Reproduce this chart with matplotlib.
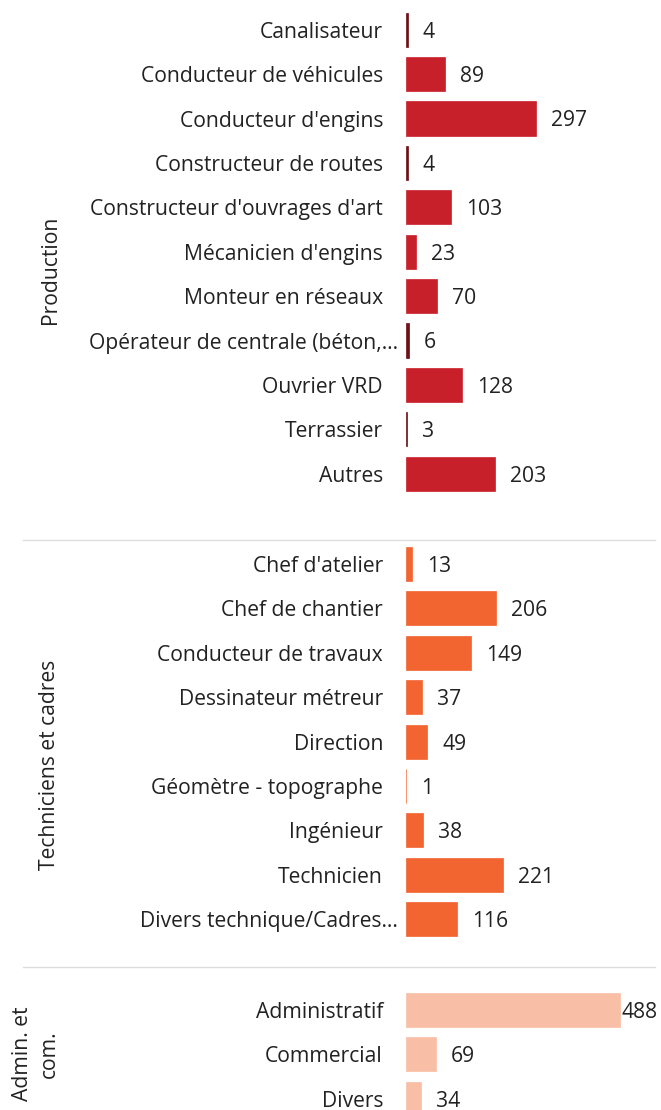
import matplotlib
matplotlib.use("Agg")
import matplotlib.pyplot as plt
from matplotlib.lines import Line2D

plt.rcParams['font.family'] = ['Open Sans', 'DejaVu Sans']

groups = ["Production", "Techniciens et cadres", "Admin. et\ncom."]
prod_labels = ["Canalisateur", "Conducteur de véhicules", "Conducteur d'engins",
               "Constructeur de routes", "Constructeur d'ouvrages d'art",
               "Mécanicien d'engins", "Monteur en réseaux",
               "Opérateur de centrale (béton,…", "Ouvrier VRD", "Terrassier", "Autres"]
prod_values = [4, 89, 297, 4, 103, 23, 70, 6, 128, 3, 203]
tech_labels = ["Chef d'atelier", "Chef de chantier", "Conducteur de travaux",
               "Dessinateur métreur", "Direction", "Géomètre - topographe",
               "Ingénieur", "Technicien", "Divers technique/Cadres…"]
tech_values = [13, 206, 149, 37, 49, 1, 38, 221, 116]
adm_labels = ["Administratif", "Commercial", "Divers"]
adm_values = [488, 69, 34]

colors = ["#C8202A", "#F26430", "#F9BFA6"]
thin_color = "#6E1016"
FS = 15.2
TXT = "#222222"

W, H = 661, 1110
fig = plt.figure(figsize=(W / 100, H / 100), dpi=100)

row_px = 44.4
x0_px = 406
px_per_unit = 0.438
xmax = (W - x0_px) / px_per_unit

panels = [
    (prod_labels, prod_values, colors[0], 29.7, (50, 270)),
    (tech_labels, tech_values, colors[1], 564, (50, 765)),
    (adm_labels, adm_values, colors[2], 1010, (36, 1054)),
]

for gi, (labels, values, col, first_center, (lx, ly)) in enumerate(panels):
    n = len(labels)
    top_px = first_center - row_px / 2
    h_px = n * row_px
    ax = fig.add_axes([x0_px / W, 1 - (top_px + h_px) / H, (W - x0_px) / W, h_px / H])
    ypos = list(range(n))
    bar_cols = [thin_color if (gi == 0 and v < 10) else col for v in values]
    ax.barh(ypos, values, height=0.77, color=bar_cols, edgecolor=bar_cols, linewidth=0.5)
    ax.set_xlim(0, xmax)
    ax.set_ylim(n - 0.5, -0.5)
    ax.set_yticks([])
    ax.set_xticks([])
    for s in ax.spines.values():
        s.set_visible(False)
    for y, lab in zip(ypos, labels):
        pad = -8 if lab.endswith("…") else -23
        ax.annotate(lab, xy=(0, y), xycoords=('axes fraction', 'data'),
                    xytext=(pad, 0), textcoords='offset pixels',
                    ha='right', va='center_baseline', fontsize=FS, color=TXT,
                    annotation_clip=False)
    for y, v in zip(ypos, values):
        end_px = v * px_per_unit
        off = 2 if x0_px + end_px + 15 + 37 > W else 15
        ax.annotate(str(v), xy=(v, y), xytext=(off, 0), textcoords='offset pixels',
                    ha='left', va='center_baseline', fontsize=FS, color=TXT,
                    annotation_clip=False)
    fig.text(lx / W, 1 - ly / H, groups[gi], rotation=90, ha='center', va='center',
             multialignment='center', fontsize=FS, color=TXT, linespacing=1.35)

for yl in [540, 967]:
    fig.add_artist(Line2D([23 / W, 655 / W], [1 - yl / H, 1 - yl / H],
                          color="#DDDDDD", linewidth=1))

fig.savefig("out.png", dpi=100)
